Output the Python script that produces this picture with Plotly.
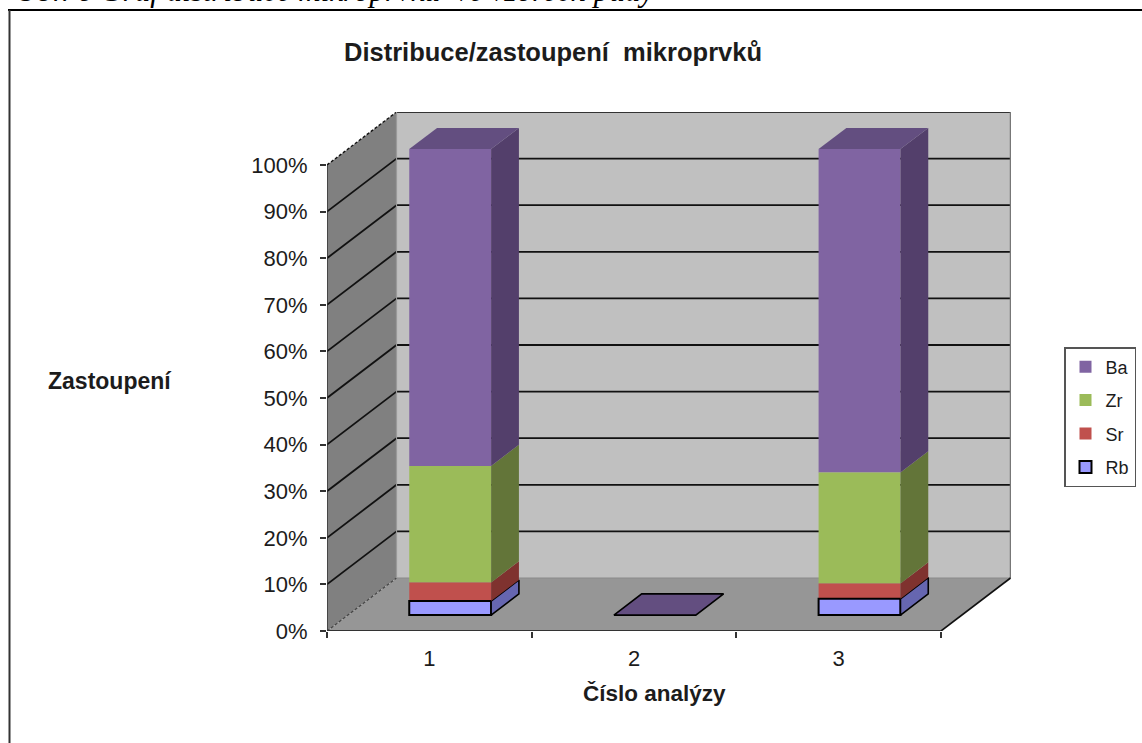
import plotly.graph_objects as go

# ---- data ----
categories = [1, 2, 3]
series_names = ["Rb", "Sr", "Zr", "Ba"]
rb = [3.0, 0, 3.5]
sr = [4.0, 0, 3.3]
zr = [25.0, 0, 23.8]
ba = [68.0, 0, 69.4]
series_values = [rb, sr, zr, ba]
y_ticks = [0, 10, 20, 30, 40, 50, 60, 70, 80, 90, 100]
y_tick_text = ["0%", "10%", "20%", "30%", "40%", "50%", "60%", "70%", "80%", "90%", "100%"]

front_colors = ["#9999FF", "#C0504D", "#9BBB59", "#8064A2"]
side_colors = ["#6666B0", "#7F322F", "#637539", "#533F6B"]
top_color = "#634E80"
WALL_BACK, WALL_SIDE, FLOOR = "#C0C0C0", "#808080", "#969696"

# ---- page geometry ----
W, H = 1142, 743
L, R, T, B = 327, 1011, 112, 631      # pixel box holding front plane + depth
PX_PER_CAT = 204.67
PX_PER_PCT = 4.66
DEPTH_X = 69.5 / PX_PER_CAT           # depth of the box, axis units
DEPTH_Y = 53 / PX_PER_PCT
X0 = 0.5
BAR_W = 0.4
D_FRONT, D_BACK = 0.30, 0.70

def px(x, y, d=0.0):
    return x + d * DEPTH_X, y + d * DEPTH_Y

def path(points):
    pts = ["%s%.4f,%.4f" % ("M" if i == 0 else "L", p[0], p[1]) for i, p in enumerate(points)]
    return " ".join(pts) + " Z"

def paper_x(p):
    return (p - L) / (R - L)

def paper_y(p):
    return (B - p) / (B - T)

shapes = []
def poly(points, fill, line=None, width=0, dash="solid"):
    shapes.append(dict(type="path", xref="x", yref="y", layer="below", path=path(points),
                       fillcolor=fill, line=dict(color=line or fill, width=width, dash=dash)))

def seg(a, b, color="#111111", width=1.8, dash="solid"):
    shapes.append(dict(type="line", xref="x", yref="y", layer="below", x0=a[0], y0=a[1], x1=b[0], y1=b[1],
                       line=dict(color=color, width=width, dash=dash)))

X1 = X0 + len(categories)
# walls and floor
poly([px(X0, 0), px(X0, 100), px(X0, 100, 1), px(X0, 0, 1)], WALL_SIDE)
poly([px(X0, 0, 1), px(X0, 100, 1), px(X1, 100, 1), px(X1, 0, 1)], WALL_BACK)
poly([px(X0, 0), px(X1, 0), px(X1, 0, 1), px(X0, 0, 1)], FLOOR)
# gridlines on the walls
for t in y_ticks[1:]:
    dash = "3px,2px" if t == 100 else "solid"
    seg(px(X0, t), px(X0, t, 1), dash=dash, width=1.4 if t == 100 else 1.8)
    seg(px(X0, t, 1), px(X1, t, 1), color="#333333" if t == 100 else "#111111")
seg(px(X0, 0), px(X0, 0, 1), color="#444444", width=1.2, dash="3px,2px")
seg(px(X0, 0, 1), px(X1, 0, 1), color="#8a8a8a", width=1.2)
seg(px(X0, 0, 1), px(X0, 100, 1), color="#999999", width=1.2)
seg(px(X1, 0, 1), px(X1, 100, 1), color="#777777", width=1.5)
seg(px(X1, 0), px(X1, 0, 1), color="#111111", width=1.6)
# axis lines
seg(px(X0, 0), px(X0, 100), color="#333333", width=1.5)
seg(px(X0, 0), px(X1, 0), color="#333333", width=1.8)
# page frame (document border around the chart)
shapes.append(dict(type="line", xref="paper", yref="paper", x0=paper_x(8), x1=paper_x(W), y0=paper_y(10), y1=paper_y(10),
                   line=dict(color="#000000", width=2.2)))
shapes.append(dict(type="line", xref="paper", yref="paper", x0=paper_x(9.5), x1=paper_x(9.5), y0=paper_y(10), y1=paper_y(H),
                   line=dict(color="#333333", width=2)))

fig = go.Figure()
bar_x = [px(c, 0, D_FRONT)[0] for c in categories]
cum = [0.0] * len(categories)
bottoms = []
bar_traces = []
for name, vals, fc in zip(series_names, series_values, front_colors):
    base = [px(c, b, D_FRONT)[1] for c, b in zip(categories, cum)]
    bottoms.append(list(cum))
    is_rb = name == "Rb"
    bar_traces.append(go.Bar(x=bar_x, y=vals, base=base, width=BAR_W, name=name, legendgroup=name,
                             marker=dict(color=fc, line=dict(color="#000000", width=2 if is_rb else 0)),
                             hovertemplate=name + ": %{y}%<extra></extra>"))
    cum = [a + v for a, v in zip(cum, vals)]
for tr in reversed(bar_traces):   # legend reads Ba, Zr, Sr, Rb from the top
    fig.add_trace(tr)

def face(points, fill, line=None, width=0):
    xs = [p[0] for p in points] + [points[0][0]]
    ys = [p[1] for p in points] + [points[0][1]]
    fig.add_trace(go.Scatter(x=xs, y=ys, mode="lines", fill="toself", fillcolor=fill,
                             line=dict(color=line or fill, width=width), showlegend=False, hoverinfo="skip"))

for i, c in enumerate(categories):
    xr = c + BAR_W / 2
    xl = c - BAR_W / 2
    for s, name in enumerate(series_names):
        y0 = bottoms[s][i]
        y1 = y0 + series_values[s][i]
        if y1 > y0:
            outlined = name == "Rb"
            face([px(xr, y0, D_FRONT), px(xr, y1, D_FRONT), px(xr, y1, D_BACK), px(xr, y0, D_BACK)],
                 side_colors[s], "#000000" if outlined else None, 1.6 if outlined else 0)
    total = cum[i]
    empty = total == 0
    face([px(xl, total, D_FRONT), px(xr, total, D_FRONT), px(xr, total, D_BACK), px(xl, total, D_BACK)],
         top_color, "#000000" if empty else None, 1.6 if empty else 0)

TEXT = "#1c1c1c"
FONT = "Liberation Sans"
annotations = [
    dict(text="Zastoupení", xref="paper", yref="paper", x=paper_x(110), y=paper_y(381), xanchor="center", yanchor="middle",
         showarrow=False, font=dict(family=FONT, size=23, color=TEXT, weight="bold")),
    dict(text="Číslo analýzy", xref="paper", yref="paper", x=paper_x(654.5), y=paper_y(693), xanchor="center", yanchor="middle",
         showarrow=False, font=dict(family=FONT, size=22.5, color=TEXT, weight="bold")),
    dict(text="Obr. 6 Graf distribuce mikroprvků  ve vzorech půdy", xref="paper", yref="paper", x=paper_x(13), y=paper_y(10),
         xanchor="left", yanchor="bottom", showarrow=False, align="left",
         font=dict(family="Liberation Serif", size=31, color="#000000", style="italic")),
]

fig.update_layout(
    width=W, height=H, autosize=False,
    margin=dict(l=L, r=W - R, t=T, b=H - B, pad=0),
    paper_bgcolor="white", plot_bgcolor="white",
    barmode="overlay", showlegend=True,
    title=dict(text="Distribuce/zastoupení  mikroprvků", x=553 / W, xref="container", xanchor="center",
               y=1 - 52 / H, yref="container", yanchor="middle",
               font=dict(family=FONT, size=25.5, color=TEXT, weight="bold")),
    xaxis=dict(range=[X0, X0 + (R - L) / PX_PER_CAT], tickmode="array", tickvals=categories,
               ticktext=[str(c) for c in categories], showgrid=False, zeroline=False, showline=False, ticks="",
               ticklabelstandoff=12, tickfont=dict(family=FONT, size=22, color=TEXT),
               minor=dict(ticks="outside", tick0=0.5, dtick=1, ticklen=6, tickcolor="#333333", tickwidth=1.5, showgrid=False)),
    yaxis=dict(range=[0, (B - T) / PX_PER_PCT], tickmode="array", tickvals=y_ticks, ticktext=y_tick_text,
               showgrid=False, zeroline=False, showline=False, ticks="outside", ticklen=6, tickcolor="#333333", tickwidth=1.5,
               ticklabelstandoff=8, tickfont=dict(family=FONT, size=22, color=TEXT)),
    legend=dict(xref="container", yref="container", x=1064 / W, y=1 - 347 / H, xanchor="left", yanchor="top",
                traceorder="grouped", tracegroupgap=7, bgcolor="white", bordercolor="#555555", borderwidth=1.5,
                font=dict(family=FONT, size=18, color=TEXT), entrywidth=31, entrywidthmode="pixels"),
    shapes=shapes, annotations=annotations,
)
fig.write_html("out.html", config={"displayModeBar": False},
               post_script="document.body.style.margin='0';document.documentElement.style.overflow='hidden';")
